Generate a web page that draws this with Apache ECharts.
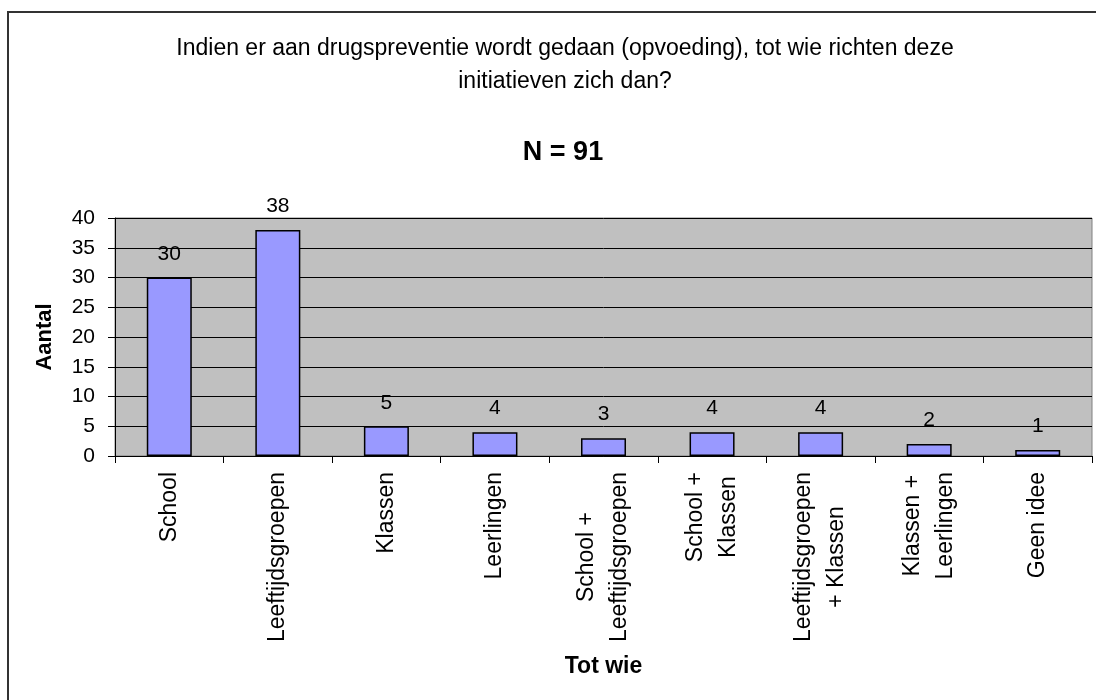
<!DOCTYPE html>
<html>
<head>
<meta charset="utf-8">
<script src="https://cdn.jsdelivr.net/npm/echarts@6/dist/echarts.min.js"></script>
<style>
    html, body { margin: 0; padding: 0; background: #fff; }
    #chart { width: 1096px; height: 700px; }
</style>
</head>
<body>
<div id="chart"></div>
<script>
// categorieen (x-as), regels in het label gescheiden door \n
const categories = [
    'School',
    'Leeftijdsgroepen',
    'Klassen',
    'Leerlingen',
    'School +\nLeeftijdsgroepen',
    'School +\nKlassen',
    'Leeftijdsgroepen\n+ Klassen',
    'Klassen +\nLeerlingen',
    'Geen idee'
]
const aantal = [30, 38, 5, 4, 3, 4, 4, 2, 1]

const titleLines = [
    'Indien er aan drugspreventie wordt gedaan (opvoeding), tot wie richten deze',
    'initiatieven zich dan?'
]
const subTitle = 'N = 91'
const xName = 'Tot wie'
const yName = 'Aantal'

const font = 'Liberation Sans, Arial, sans-serif'

const myChart = echarts.init(document.getElementById('chart'))

const option = {
    backgroundColor: '#fff',
    animation: false,
    textStyle: { fontFamily: font },
    title: [
        {
            text: titleLines.join('\n'),
            left: 560,
            top: 27,
            textAlign: 'center',
            textStyle: {
                fontFamily: font,
                fontSize: 23,
                fontWeight: 'normal',
                color: '#000',
                lineHeight: 33
            }
        },
        {
            text: subTitle,
            left: 558,
            top: 134,
            textAlign: 'center',
            textStyle: {
                fontFamily: font,
                fontSize: 27,
                fontWeight: 'bold',
                color: '#000'
            }
        }
    ],
    graphic: [
        {
            type: 'rect',
            shape: { x: 8, y: 12, width: 1200, height: 800 },
            style: { fill: 'none', stroke: '#333', lineWidth: 2 },
            silent: true,
            z: 100
        }
    ],
    grid: {
        left: 115,
        right: 4,
        top: 218,
        bottom: 244,
        show: true,
        backgroundColor: '#C0C0C0',
        borderColor: '#808080',
        borderWidth: 1,
        containLabel: false,
        outerBoundsMode: 'none'
    },
    xAxis: {
        type: 'category',
        data: categories,
        name: xName,
        nameLocation: 'middle',
        nameGap: 199,
        nameTextStyle: {
            fontFamily: font,
            fontSize: 23,
            fontWeight: 'bold',
            color: '#000'
        },
        axisLine: { lineStyle: { color: '#000', width: 1 } },
        axisTick: {
            show: true,
            alignWithLabel: false,
            length: 7,
            lineStyle: { color: '#000' }
        },
        axisLabel: {
            interval: 0,
            rotate: 90,
            margin: 16,
            color: '#000',
            fontFamily: font,
            fontSize: 23,
            // regels binnen een label centreren
            formatter: (value) => value.split('\n').map(l => `{c|${l}}`).join('\n'),
            rich: {
                c: {
                    align: 'center',
                    fontFamily: font,
                    fontSize: 23,
                    lineHeight: 33,
                    color: '#000'
                }
            }
        },
        splitLine: { show: false }
    },
    yAxis: {
        type: 'value',
        min: 0,
        max: 40,
        interval: 5,
        name: yName,
        nameLocation: 'middle',
        nameGap: 59,
        nameTextStyle: {
            fontFamily: font,
            fontSize: 22,
            fontWeight: 'bold',
            color: '#000'
        },
        axisLine: { show: true, lineStyle: { color: '#000', width: 1 } },
        axisTick: { show: true, length: 7, lineStyle: { color: '#000' } },
        axisLabel: {
            margin: 20,
            color: '#000',
            fontFamily: font,
            fontSize: 21
        },
        splitLine: { lineStyle: { color: '#000', width: 1 } }
    },
    series: [
        {
            type: 'bar',
            data: aantal,
            barWidth: 45,
            itemStyle: {
                color: '#9999FF',
                borderColor: '#000',
                borderWidth: 1.5
            },
            label: {
                show: true,
                position: 'top',
                distance: 13,
                color: '#000',
                fontFamily: font,
                fontSize: 21
            }
        }
    ]
}

myChart.setOption(option)
</script>
</body>
</html>
